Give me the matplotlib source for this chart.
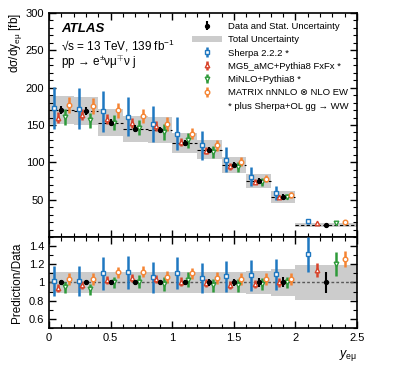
import numpy as np
import matplotlib
matplotlib.use('Agg')
import matplotlib.pyplot as plt
from matplotlib.lines import Line2D
from matplotlib.patches import Patch
from matplotlib.ticker import MultipleLocator

plt.rcParams['font.family'] = ['Liberation Sans', 'DejaVu Sans']
plt.rcParams['mathtext.fontset'] = 'custom'
plt.rcParams['mathtext.rm'] = 'Liberation Sans'
plt.rcParams['mathtext.it'] = 'Liberation Sans:italic'

# bins in y_emu
edges = np.array([0.0, 0.2, 0.4, 0.6, 0.8, 1.0, 1.2, 1.4, 1.6, 1.8, 2.0, 2.5])

# measured cross section [fb] and uncertainties (relative)
data = np.array([170, 169, 153, 145, 143, 126, 117, 97, 75, 54, 16])
data_stat = np.array([0.03, 0.03, 0.03, 0.03, 0.03, 0.03, 0.035, 0.035, 0.05, 0.055, 0.12])
total_unc = np.array([0.11, 0.11, 0.12, 0.12, 0.12, 0.11, 0.11, 0.11, 0.13, 0.145, 0.195])

# predictions as ratio to data, with ratio error
sherpa = np.array([1.015, 1.015, 1.10, 1.11, 1.06, 1.10, 1.05, 1.066, 1.077, 1.088, 1.31])
sherpa_err = np.array([0.163, 0.163, 0.18, 0.18, 0.17, 0.175, 0.165, 0.175, 0.17, 0.175, 0.195])
mg5 = np.array([0.94, 0.97, 1.03, 1.05, 1.04, 1.01, 0.99, 0.975, 0.985, 1.0, 1.14])
mg5_err = np.array([0.045, 0.045, 0.045, 0.045, 0.045, 0.045, 0.045, 0.045, 0.045, 0.045, 0.075])
minlo = np.array([0.945, 0.925, 1.0, 1.01, 0.985, 1.03, 0.97, 0.97, 0.98, 1.0, 1.20])
minlo_err = np.array([0.065, 0.06, 0.065, 0.07, 0.075, 0.08, 0.07, 0.07, 0.065, 0.065, 0.13])
matrix = np.array([1.04, 1.04, 1.11, 1.12, 1.06, 1.10, 1.05, 1.04, 1.04, 1.04, 1.257])
matrix_err = np.array([0.065, 0.065, 0.065, 0.065, 0.065, 0.06, 0.065, 0.065, 0.065, 0.065, 0.085])

centers = 0.5 * (edges[:-1] + edges[1:])
widths = edges[1:] - edges[:-1]

c_sherpa = '#1f78c1'
c_mg5 = '#d8432a'
c_minlo = '#2e9a3a'
c_matrix = '#f58432'
c_band = '#cccccc'

fig = plt.figure(figsize=(4.07, 3.65), dpi=100)
ax = fig.add_axes([0.1204, 0.3507, 0.757, 0.6137])
rax = fig.add_axes([0.1204, 0.1014, 0.757, 0.2493])

preds = [
    (sherpa, sherpa_err, -0.30, c_sherpa, 's', 'Sherpa 2.2.2 *'),
    (mg5, mg5_err, -0.15, c_mg5, '^', 'MG5_aMC+Pythia8 FxFx *'),
    (minlo, minlo_err, 0.15, c_minlo, 'v', 'MiNLO+Pythia8 *'),
    (matrix, matrix_err, 0.30, c_matrix, 'o', 'MATRIX nNNLO ⊗ NLO EW'),
]

# total uncertainty bands
ax.bar(edges[:-1], 2 * total_unc * data, bottom=data * (1 - total_unc), width=widths,
       align='edge', color=c_band, lw=0, zorder=1)
rax.bar(edges[:-1], 2 * total_unc, bottom=1 - total_unc, width=widths,
        align='edge', color=c_band, lw=0, zorder=1)

ax.hlines(data, edges[:-1], edges[1:], colors='k', linestyles=(0, (3, 2)), lw=0.8, zorder=2)
rax.axhline(1, color='0.35', ls=(0, (2, 1.5)), lw=1.0, zorder=2)

handles = []
for r, e, off, col, mk, lab in preds:
    x = centers + off * widths
    h = ax.errorbar(x, r * data, yerr=e * data, fmt=mk, color=col, mfc='white', mec=col,
                    ms=3.3, mew=1.0, elinewidth=1.8, capsize=0, zorder=3)
    rax.errorbar(x, r, yerr=e, fmt=mk, color=col, mfc='white', mec=col,
                 ms=3.3, mew=1.0, elinewidth=1.8, capsize=0, zorder=3)
    handles.append((h, lab))

hd = ax.errorbar(centers, data, yerr=data_stat * data, fmt='o', color='k', ms=2.8,
                 elinewidth=1.5, capsize=0, zorder=4)
rax.errorbar(centers, np.ones_like(centers), yerr=data_stat, fmt='o', color='k', ms=2.8,
             elinewidth=1.5, capsize=0, zorder=4)

leg_handles = [hd, Patch(color=c_band, lw=0)] + [h for h, _ in handles] + [Line2D([], [], color='none')]
leg_labels = ['Data and Stat. Uncertainty', 'Total Uncertainty'] + [l for _, l in handles] + \
             ['* plus Sherpa+OL gg → WW']
ax.legend(leg_handles, leg_labels, loc='upper left', bbox_to_anchor=(0.445, 0.985),
          frameon=False, fontsize=6.8, handlelength=3.2, handletextpad=0.6,
          labelspacing=0.45, borderaxespad=0.2)

ax.text(0.039, 0.93, 'ATLAS', transform=ax.transAxes, fontsize=9.5, fontweight='bold',
        fontstyle='italic', va='center')
ax.text(0.039, 0.855, '√s = 13 TeV, 139 fb$^{-1}$', transform=ax.transAxes, fontsize=8.5,
        va='center')
ax.text(0.039, 0.778, 'pp → e$^{\\pm}$νμ$^{\\mp}$ν j', transform=ax.transAxes, fontsize=8.5,
        va='center')

for a in (ax, rax):
    a.set_xlim(0, 2.5)
    a.tick_params(which='both', direction='in', top=True, right=True, labelsize=8)
    a.tick_params(which='major', length=5, width=1)
    a.tick_params(which='minor', length=2.8, width=0.8)
    a.xaxis.set_major_locator(MultipleLocator(0.5))
    a.xaxis.set_minor_locator(MultipleLocator(0.1))
    for s in a.spines.values():
        s.set_linewidth(1.2)

ax.set_ylim(0, 300)
ax.set_yticks([50, 100, 150, 200, 250, 300])
ax.yaxis.set_minor_locator(MultipleLocator(10))
ax.tick_params(labelbottom=False)
ax.set_ylabel('dσ/dy$_{\\mathrm{eμ}}$ [fb]', fontsize=8.5, loc='top', labelpad=1)

rax.set_ylim(0.5, 1.5)
rax.set_yticks([0.6, 0.8, 1.0, 1.2, 1.4])
rax.set_yticklabels(['0.6', '0.8', '1', '1.2', '1.4'])
rax.yaxis.set_minor_locator(MultipleLocator(0.1))
rax.set_xticks([0, 0.5, 1, 1.5, 2, 2.5])
rax.set_xticklabels(['0', '0.5', '1', '1.5', '2', '2.5'])
rax.set_ylabel('Prediction/Data', fontsize=8.5)
rax.set_xlabel('$y_{\\mathrm{eμ}}$', fontsize=9, loc='right')

fig.savefig('out.png', dpi=100)
